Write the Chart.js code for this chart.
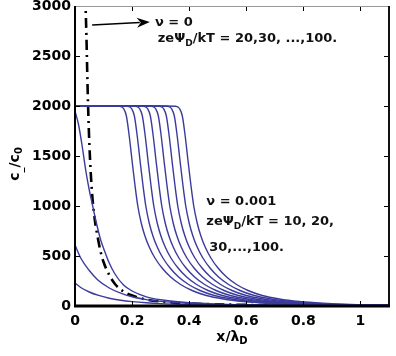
<!DOCTYPE html>
<html><head><meta charset="utf-8">
<script src="https://cdn.jsdelivr.net/npm/chart.js@4"></script>
<style>html,body{margin:0;padding:0;background:#fff}</style>
</head><body>
<canvas id="c" width="396" height="356" style="width:396px;height:356px;display:block"></canvas>
<script>
// ---- axes ----
const xTicks = [0, 0.2, 0.4, 0.6, 0.8, 1];
const yTicks = [0, 500, 1000, 1500, 2000, 2500, 3000];
const xMax = 1.1, yMax = 3000;

// ---- nu = 0 (dash-dot), zeΨD/kT = 20..100 (curves coincide) ----
const nu0_x = [0.036, 0.040, 0.044, 0.048, 0.053, 0.060, 0.070, 0.080, 0.090, 0.100, 0.120, 0.140, 0.170, 0.200, 0.250, 0.300, 0.400, 0.500, 0.600, 0.800, 1.100];
const nu0_y = [3100, 2700, 2200, 1800, 1450, 1120, 850, 680, 540, 440, 310, 220, 145, 105, 65, 45, 25, 16, 11, 6, 3];

// ---- nu = 0.001, low-potential curves ----
const low1_x = [0, 0.02, 0.05, 0.08, 0.12, 0.16, 0.20, 0.25, 0.30, 0.40, 0.50, 0.60, 0.80, 1.10];
const low1_y = [230, 185, 140, 108, 78, 58, 44, 32, 24, 15, 10, 7, 4, 2];
const low2_x = [0, 0.02, 0.05, 0.08, 0.12, 0.16, 0.20, 0.25, 0.30, 0.40, 0.50, 0.60, 0.80, 1.10];
const low2_y = [610, 480, 355, 260, 180, 128, 92, 64, 46, 26, 16, 11, 6, 3];
const low3_x = [0, 0.012, 0.024, 0.038, 0.050, 0.062, 0.075, 0.090, 0.105, 0.120, 0.140, 0.170, 0.200, 0.250, 0.300, 0.400, 0.500, 0.600, 0.800, 1.100];
const low3_y = [1950, 1820, 1620, 1350, 1160, 1000, 830, 660, 540, 430, 320, 210, 150, 92, 62, 32, 19, 12, 6, 3];

// ---- nu = 0.001, saturated curves: c-levels and x where each curve reaches them ----
const satLevels = [2000, 2000, 1998, 1975, 1900, 1700, 1450, 1210, 1000, 830, 700, 590, 480, 380, 290, 215, 155, 105, 70, 45, 28, 16, 9, 5, 3];
const sat_x = [
  [0, 0.120, 0.155, 0.170, 0.180, 0.190, 0.200, 0.210, 0.220, 0.232, 0.245, 0.260, 0.280, 0.305, 0.335, 0.370, 0.410, 0.460, 0.520, 0.590, 0.670, 0.770, 0.890, 1.040, 1.220],
  [0, 0.148, 0.183, 0.198, 0.208, 0.218, 0.228, 0.238, 0.248, 0.260, 0.273, 0.288, 0.308, 0.333, 0.363, 0.398, 0.438, 0.488, 0.548, 0.618, 0.698, 0.798, 0.918, 1.068, 1.248],
  [0, 0.176, 0.211, 0.226, 0.236, 0.246, 0.256, 0.266, 0.276, 0.288, 0.301, 0.316, 0.336, 0.361, 0.391, 0.426, 0.466, 0.516, 0.576, 0.646, 0.726, 0.826, 0.946, 1.096, 1.276],
  [0, 0.204, 0.239, 0.254, 0.264, 0.274, 0.284, 0.294, 0.304, 0.316, 0.329, 0.344, 0.364, 0.389, 0.419, 0.454, 0.494, 0.544, 0.604, 0.674, 0.754, 0.854, 0.974, 1.124, 1.304],
  [0, 0.232, 0.267, 0.282, 0.292, 0.302, 0.312, 0.322, 0.332, 0.344, 0.357, 0.372, 0.392, 0.417, 0.447, 0.482, 0.522, 0.572, 0.632, 0.702, 0.782, 0.882, 1.002, 1.152, 1.332],
  [0, 0.260, 0.295, 0.310, 0.320, 0.330, 0.340, 0.350, 0.360, 0.372, 0.385, 0.400, 0.420, 0.445, 0.475, 0.510, 0.550, 0.600, 0.660, 0.730, 0.810, 0.910, 1.030, 1.180, 1.360],
  [0, 0.288, 0.323, 0.338, 0.348, 0.358, 0.368, 0.378, 0.388, 0.400, 0.413, 0.428, 0.448, 0.473, 0.503, 0.538, 0.578, 0.628, 0.688, 0.758, 0.838, 0.938, 1.058, 1.208, 1.388],
  [0, 0.316, 0.351, 0.366, 0.376, 0.386, 0.396, 0.406, 0.416, 0.428, 0.441, 0.456, 0.476, 0.501, 0.531, 0.566, 0.606, 0.656, 0.716, 0.786, 0.866, 0.966, 1.086, 1.236, 1.416]
];

// ---- annotation texts (data coordinates of their left/middle) ----
const note1 = [{x: 0.28, y: 2830, parts: [{t: 'ν = 0'}]},
               {x: 0.29, y: 2670, parts: [{t: 'zeΨ'}, {t: 'D', sub: true}, {t: '/kT = 20,30, ...,100.'}]}];
const note2 = [{x: 0.46, y: 1040, parts: [{t: 'ν = 0.001'}]},
               {x: 0.46, y: 840, parts: [{t: 'zeΨ'}, {t: 'D', sub: true}, {t: '/kT = 10, 20,'}]},
               {x: 0.47, y: 580, parts: [{t: '30,...,100.'}]}];
const arrowFrom = {x: 0.06, y: 2810}, arrowTo = {x: 0.262, y: 2840};

const BLUE = '#3b3b9c';
const FONT = "'DejaVu Sans'";
const pts = (xs, ys) => xs.map((x, i) => ({x: x, y: ys[i]}));
const blue = (data) => ({data: data, borderColor: BLUE, borderWidth: 1.4, pointRadius: 0, fill: false, cubicInterpolationMode: 'monotone'});

const datasets = [];
datasets.push(blue(pts(low1_x, low1_y)));
datasets.push(blue(pts(low2_x, low2_y)));
datasets.push(blue(pts(low3_x, low3_y)));
sat_x.forEach(xs => datasets.push(blue(pts(xs, satLevels))));
datasets.push({data: pts(nu0_x, nu0_y), borderColor: '#000', borderWidth: 2.6, borderDash: [10, 5, 2, 5], pointRadius: 0, fill: false, cubicInterpolationMode: 'monotone'});

function drawRich(ctx, parts, x, y, size) {
  let cx = x;
  parts.forEach(p => {
    const s = p.sub ? Math.round(size * 0.7) : size;
    ctx.font = 'bold ' + s + 'px ' + FONT;
    ctx.fillText(p.t, cx, p.sub ? y + size * 0.35 : y);
    cx += ctx.measureText(p.t).width;
  });
}

const decor = {
  id: 'decor',
  afterDatasetsDraw(chart) {
    const ctx = chart.ctx, a = chart.chartArea;
    const xs = chart.scales.x, ys = chart.scales.y;
    ctx.save();
    ctx.strokeStyle = '#000';
    // inward ticks
    ctx.lineWidth = 1;
    xTicks.forEach(v => {
      const px = Math.round(xs.getPixelForValue(v)) + 0.5;
      ctx.beginPath(); ctx.moveTo(px, a.bottom); ctx.lineTo(px, a.bottom - 5); ctx.stroke();
      ctx.beginPath(); ctx.moveTo(px, a.top); ctx.lineTo(px, a.top + 5); ctx.stroke();
    });
    yTicks.forEach(v => {
      const py = Math.round(ys.getPixelForValue(v)) + 0.5;
      ctx.beginPath(); ctx.moveTo(a.left, py); ctx.lineTo(a.left + 5, py); ctx.stroke();
      ctx.beginPath(); ctx.moveTo(a.right, py); ctx.lineTo(a.right - 5, py); ctx.stroke();
    });
    // frame
    ctx.strokeStyle = '#999'; ctx.lineWidth = 1;
    ctx.beginPath(); ctx.moveTo(a.left, a.top + 0.5); ctx.lineTo(a.right, a.top + 0.5); ctx.stroke();
    ctx.strokeStyle = '#111'; ctx.lineWidth = 2;
    ctx.beginPath(); ctx.moveTo(a.right, a.top); ctx.lineTo(a.right, a.bottom); ctx.stroke();
    ctx.strokeStyle = '#000';
    ctx.beginPath(); ctx.moveTo(a.left, a.top); ctx.lineTo(a.left, a.bottom); ctx.stroke();
    ctx.lineWidth = 3;
    ctx.beginPath(); ctx.moveTo(a.left - 1, a.bottom); ctx.lineTo(a.right + 1, a.bottom); ctx.stroke();
    // arrow
    const x1 = xs.getPixelForValue(arrowFrom.x), y1 = ys.getPixelForValue(arrowFrom.y);
    const x2 = xs.getPixelForValue(arrowTo.x), y2 = ys.getPixelForValue(arrowTo.y);
    const ang = Math.atan2(y2 - y1, x2 - x1);
    ctx.lineWidth = 1.3;
    ctx.beginPath(); ctx.moveTo(x1, y1); ctx.lineTo(x2 - 10 * Math.cos(ang), y2 - 10 * Math.sin(ang)); ctx.stroke();
    ctx.fillStyle = '#000';
    ctx.beginPath();
    ctx.moveTo(x2, y2);
    ctx.lineTo(x2 - 13 * Math.cos(ang) + 5 * Math.sin(ang), y2 - 13 * Math.sin(ang) - 5 * Math.cos(ang));
    ctx.lineTo(x2 - 9 * Math.cos(ang), y2 - 9 * Math.sin(ang));
    ctx.lineTo(x2 - 13 * Math.cos(ang) - 5 * Math.sin(ang), y2 - 13 * Math.sin(ang) + 5 * Math.cos(ang));
    ctx.closePath(); ctx.fill();
    // notes
    ctx.fillStyle = '#111'; ctx.textBaseline = 'middle'; ctx.textAlign = 'left';
    note1.concat(note2).forEach(n => drawRich(ctx, n.parts, xs.getPixelForValue(n.x), ys.getPixelForValue(n.y), 13));
    // axis titles
    ctx.fillStyle = '#000';
    const tx = (a.left + a.right) / 2;
    ctx.font = 'bold 14px ' + FONT;
    const w1 = ctx.measureText('x/λ').width;
    ctx.font = 'bold 10px ' + FONT;
    const w2 = ctx.measureText('D').width;
    drawRich(ctx, [{t: 'x/λ'}, {t: 'D', sub: true}], tx - (w1 + w2) / 2, 337, 14);
    ctx.save();
    ctx.translate(15, 164);
    ctx.rotate(-Math.PI / 2);
    const parts = [{t: 'c'}, {t: '_', sub: true}, {t: '/c'}, {t: '0', sub: true}];
    let tw = 0;
    parts.forEach(p => { ctx.font = 'bold ' + (p.sub ? 10 : 14) + 'px ' + FONT; tw += ctx.measureText(p.t).width; });
    drawRich(ctx, parts, -tw / 2, 0, 14);
    ctx.restore();
    ctx.restore();
  }
};

new Chart(document.getElementById('c'), {
  type: 'line',
  data: {datasets: datasets},
  options: {
    responsive: false,
    animation: false,
    layout: {padding: {top: 6, right: 7, left: 0, bottom: 0}},
    plugins: {legend: {display: false}, tooltip: {enabled: false}},
    scales: {
      x: {
        type: 'linear', min: 0, max: xMax,
        afterFit: s => { s.height = 50; s.paddingLeft = 0; s.paddingRight = 0; },
        afterBuildTicks: s => { s.ticks = xTicks.map(v => ({value: v})); },
        grid: {display: false, drawTicks: false},
        border: {display: false},
        ticks: {padding: 7, color: '#000', font: {family: FONT, size: 14, weight: 'bold'}, maxRotation: 0, autoSkip: false, callback: v => String(v)}
      },
      y: {
        type: 'linear', min: 0, max: yMax,
        afterFit: s => { s.width = 75; s.paddingTop = 0; s.paddingBottom = 0; },
        afterBuildTicks: s => { s.ticks = yTicks.map(v => ({value: v})); },
        grid: {display: false, drawTicks: false},
        border: {display: false},
        ticks: {padding: 4, color: '#000', font: {family: FONT, size: 14, weight: 'bold'}, autoSkip: false, callback: v => String(v)}
      }
    }
  },
  plugins: [decor]
});
</script>
</body></html>
